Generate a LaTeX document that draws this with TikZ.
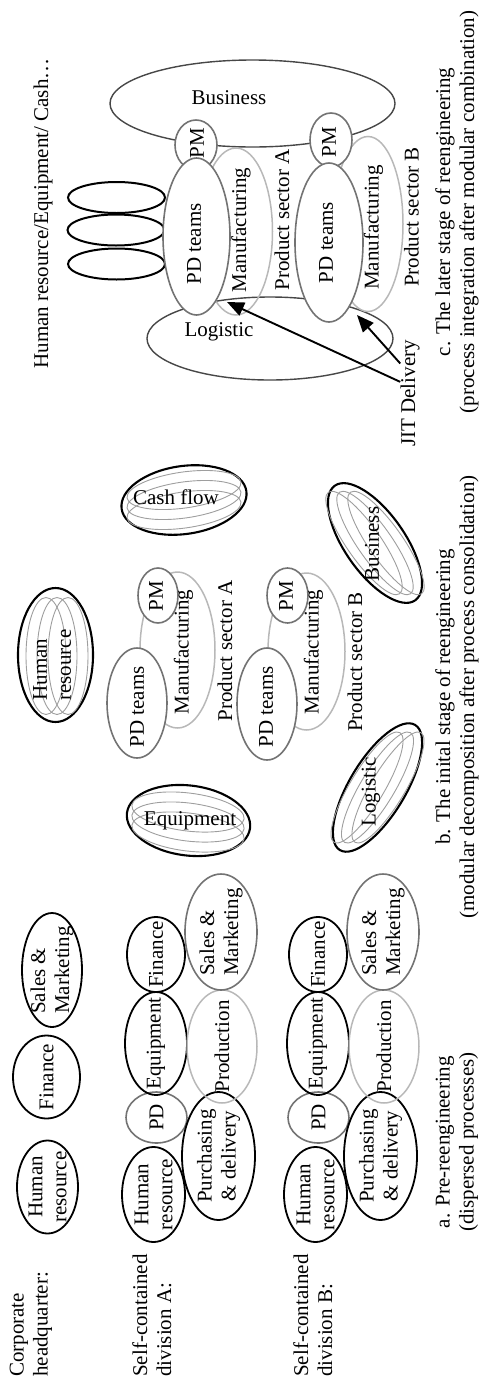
\documentclass[tikz,border=0pt]{standalone}
\usepackage{fontspec}
\setmainfont{Liberation Serif}
\usetikzlibrary{shapes.geometric,arrows.meta}

\begin{document}
\begin{tikzpicture}[x=1pt, y=-1pt, font=\fontsize{21}{24}\selectfont,
	blk/.style={ellipse, draw=black, line width=1.8pt, inner sep=0pt},
	blkb/.style={ellipse, draw=black, line width=2.1pt, inner sep=0pt},
	dgry/.style={ellipse, draw=black!72, line width=1.4pt, inner sep=0pt},
	gry/.style={ellipse, draw=black!55, line width=1.6pt, inner sep=0pt},
	lgry/.style={ellipse, draw=black!28, line width=1.5pt, inner sep=0pt},
	subell/.style={ellipse, draw=black!38, line width=0.9pt, inner sep=0pt},
	sz/.style 2 args={minimum width=#1, minimum height=#2},
	txt/.style={rotate=90, align=center, inner sep=0pt},
	htxt/.style={align=center, inner sep=0pt},
	jitarr/.style={line width=1.9pt, -{Triangle[length=17pt,width=14pt]}}]
	%%%%% START %%%%%
	\useasboundingbox (0,0) rectangle (480,1385);
	
	% a. corporate headquarter
	\node[txt, anchor=west, align=left] (hqLab) at (31,1377) {Corporate\\headquarter:};
	\node[blk, sz={61}{93}] (hqHR) at (47.5,1187) {};
	\node[txt] (hqHRt) at (hqHR) {Human\\resource};
	\node[blk, sz={67}{83}] (hqFin) at (46.5,1077) {};
	\node[txt] (hqFint) at (hqFin) {Finance};
	\node[blk, sz={60}{114}] (hqSal) at (52,970) {};
	\node[txt, align=left] (hqSalt) at (hqSal) {Sales \&\\Marketing};
	
	% a. division A
	\node[txt, anchor=west, align=left] (aLab) at (152,1377) {Self-contained\\division A:};
	\node[blk, sz={63}{95}] (aHR) at (153.5,1194.5) {};
	\node[gry, sz={61}{51}] (aPD) at (156.5,1117.5) {};
	\node[blk, sz={62}{103}] (aEq) at (156,1043.5) {};
	\node[blk, sz={58}{75}] (aFin) at (156,954.5) {};
	\node[blk, sz={73}{128}] (aPur) at (218.5,1156) {};
	\node[lgry, sz={70}{113}] (aProd) at (222,1046.5) {};
	\node[gry, sz={72}{116}] (aSal) at (221,932) {};
	\node[txt] (aHRt) at (aHR) {Human\\resource};
	\node[txt] (aPDt) at (aPD) {PD};
	\node[txt] (aEqt) at (aEq) {Equipment};
	\node[txt] (aFint) at (aFin) {Finance};
	\node[txt] (aPurt) at (aPur) {Purchasing\\\& delivery};
	\node[txt] (aProdt) at (aProd) {Production};
	\node[txt, align=left] (aSalt) at (aSal) {Sales \&\\Marketing};
	
	% a. division B
	\node[txt, anchor=west, align=left] (bLab) at (313,1377) {Self-contained\\division B:};
	\node[blk, sz={63}{95}] (bHR) at (315.5,1194.5) {};
	\node[gry, sz={61}{51}] (bPD) at (318.5,1117.5) {};
	\node[blk, sz={62}{103}] (bEq) at (318,1043.5) {};
	\node[blk, sz={58}{75}] (bFin) at (318,954.5) {};
	\node[blk, sz={73}{128}] (bPur) at (380.5,1156) {};
	\node[lgry, sz={70}{113}] (bProd) at (384,1046.5) {};
	\node[gry, sz={72}{116}] (bSal) at (383,932) {};
	\node[txt] (bHRt) at (bHR) {Human\\resource};
	\node[txt] (bPDt) at (bPD) {PD};
	\node[txt] (bEqt) at (bEq) {Equipment};
	\node[txt] (bFint) at (bFin) {Finance};
	\node[txt] (bPurt) at (bPur) {Purchasing\\\& delivery};
	\node[txt] (bProdt) at (bProd) {Production};
	\node[txt, align=left] (bSalt) at (bSal) {Sales \&\\Marketing};
	
	\node[txt] (capA) at (457,1142) {a. Pre-reengineering\\(dispersed processes)};
	
	% b. consolidated resources
	\node[blkb, sz={75}{134}] (iHR) at (55.5,655) {};
	\node[subell, sz={40}{117}] (iHR1) at (46,656) {};
	\node[subell, sz={40}{117}] (iHR2) at (57,656) {};
	\node[subell, sz={40}{117}] (iHR3) at (68,656) {};
	\node[txt, align=left] (iHRt) at (52,665) {Human\\resource};
	
	\node[blkb, sz={124}{70}, rotate=-7] (iEq) at (188.5,820.5) {};
	\node[subell, sz={113}{38}, rotate=-7] (iEq1) at (188,812) {};
	\node[subell, sz={113}{38}, rotate=-7] (iEq2) at (188,822) {};
	\node[subell, sz={113}{38}, rotate=-7] (iEq3) at (188,832) {};
	\node[htxt] (iEqt) at (190,821) {Equipment};
	
	\node[blkb, sz={126}{68}, rotate=8] (iCash) at (184,500) {};
	\node[subell, sz={115}{36}, rotate=8] (iCash1) at (184,490) {};
	\node[subell, sz={115}{36}, rotate=8] (iCash2) at (184,500) {};
	\node[subell, sz={115}{36}, rotate=8] (iCash3) at (184,510) {};
	\node[htxt] (iCasht) at (176,497) {Cash flow};
	
	\node[blkb, sz={140}{60}, rotate=-55] (iBus) at (375,543) {};
	\node[subell, sz={124}{34}, rotate=-55] (iBus1) at (364,543) {};
	\node[subell, sz={124}{34}, rotate=-55] (iBus2) at (375,543) {};
	\node[subell, sz={124}{34}, rotate=-55] (iBus3) at (386,543) {};
	\node[txt] (iBust) at (372,544) {Business};
	
	\node[blkb, sz={146}{56}, rotate=59] (iLog) at (377.5,787.5) {};
	\node[subell, sz={128}{34}, rotate=59] (iLog1) at (367,787.5) {};
	\node[subell, sz={128}{34}, rotate=59] (iLog2) at (377.5,787.5) {};
	\node[subell, sz={128}{34}, rotate=59] (iLog3) at (388,787.5) {};
	\node[txt] (iLogt) at (371,792) {Logistic};
	
	% b. product sectors
	\node[lgry, sz={75}{156}] (iManA) at (177.5,650) {};
	\node[gry, fill=white, sz={40}{55}] (iPMA) at (158,595.5) {};
	\node[gry, fill=white, sz={60}{110}] (iPDA) at (137,703) {};
	\node[txt] (iPDAt) at (137,707) {PD teams};
	\node[txt] (iPMAt) at (156,596) {PM};
	\node[txt] (iManAt) at (183.5,652) {Manufacturing};
	\node[txt] (iSecA) at (225,651) {Product sector A};
	
	\node[lgry, sz={77}{157}] (iManB) at (306.5,651.5) {};
	\node[gry, fill=white, sz={41}{55}] (iPMB) at (287.5,595.5) {};
	\node[gry, fill=white, sz={60}{112}] (iPDB) at (267,704) {};
	\node[txt] (iPDBt) at (266,707) {PD teams};
	\node[txt] (iPMBt) at (286,596) {PM};
	\node[txt] (iManBt) at (313.5,652) {Manufacturing};
	\node[txt] (iSecB) at (355,662) {Product sector B};
	
	\node[txt] (capB) at (457,697) {b. The inital stage of reengineering\\(modular decomposition after process consolidation)};
	
	% c. later stage
	\node[txt] (lRes) at (43,213.5) {Human resource/Equipment/ Cash\ldots};
	\node[blk, line width=2pt, sz={97}{31}] (lRes1) at (116.5,197.5) {};
	\node[blk, line width=2pt, sz={97}{31}] (lRes2) at (116,230) {};
	\node[blk, line width=2pt, sz={97}{31}] (lRes3) at (116.5,264) {};
	
	\node[dgry, sz={285}{87}] (lBus) at (252.5,103.5) {};
	\node[dgry, sz={246}{83}] (lLog) at (270,338.5) {};
	\node[lgry, sz={73}{167}] (lManA) at (236,231.5) {};
	\node[lgry, sz={70}{175}] (lManB) at (368,224) {};
	\node[gry, fill=white, sz={42}{50}] (lPMA) at (196,145) {};
	\node[gry, fill=white, sz={42}{54}] (lPMB) at (331,140) {};
	\node[gry, fill=white, sz={67}{157}] (lPDA) at (196.5,236.5) {};
	\node[gry, fill=white, sz={68}{159}] (lPDB) at (329,242.5) {};
	
	\node[htxt] (lBust) at (229,98) {Business};
	\node[htxt] (lLogt) at (219,332) {Logistic};
	\node[txt] (lPMAt) at (197,143) {PM};
	\node[txt] (lPMBt) at (329,142) {PM};
	\node[txt] (lPDAt) at (194,244) {PD teams};
	\node[txt] (lPDBt) at (326,242.5) {PD teams};
	\node[txt] (lManAt) at (241,230) {Manufacturing};
	\node[txt] (lManBt) at (373.5,227.5) {Manufacturing};
	\node[txt] (lSecA) at (282,220) {Product sector A};
	\node[txt] (lSecB) at (411.5,217) {Product sector B};
	
	\node[txt] (jit) at (410,393.5) {JIT Delivery};
	\coordinate (tipA) at (227,302);
	\coordinate (tipB) at (357,315);
	\draw[jitarr] (jit.40) -- (tipA);
	\draw[jitarr] (jit.18) -- (tipB);
	
	\node[txt] (capC) at (457,212) {c. The later stage of reengineering\\(process integration after modular combination)};
	%%%%% END %%%%%
\end{tikzpicture}
\end{document}
